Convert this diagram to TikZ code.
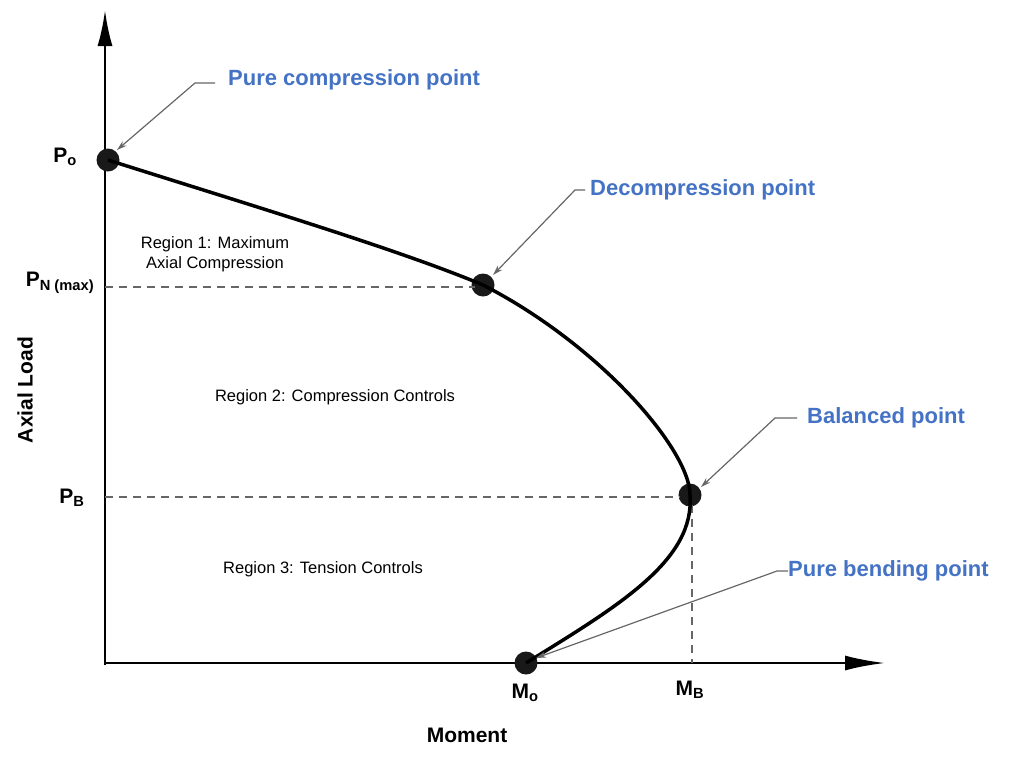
\documentclass[tikz,border=0pt]{standalone}
\usepackage{fontspec}
\setmainfont{Liberation Sans}
\usetikzlibrary{arrows.meta}
\definecolor{lblue}{RGB}{68,114,196}
\begin{document}
\begin{tikzpicture}[x=1pt,y=-1pt,
  dot/.style={circle,fill=black!90,inner sep=0pt,minimum size=23pt},
  callout/.style={font=\bfseries\fontsize{22}{26}\selectfont,text=lblue,anchor=west,inner sep=0pt},
  lead/.style={draw=black!60,line width=1.2pt,-{Stealth[length=10pt,width=6pt]}},
  reg/.style={font=\fontsize{16.5}{20}\selectfont,align=center},
  ax/.style={font=\bfseries\fontsize{21}{24}\selectfont},
  guide/.style={draw=black!60,line width=1.6pt,dash pattern=on 8pt off 6pt}]
\useasboundingbox (0,0) rectangle (1024,769);
\coordinate (O) at (105,663);
\coordinate (ytop) at (105,10);
\coordinate (xend) at (885,663);
\draw[line width=2.6pt,-{Latex[length=36pt,width=15pt]}] (105,665) -- (ytop);
\draw[line width=2.6pt,-{Latex[length=40pt,width=15pt]}] (O) -- (xend);
\node[dot] (po) at (108,160) {};
\node[dot] (dc) at (483,285) {};
\node[dot] (bp) at (690,495) {};
\node[dot] (mo) at (526,663) {};
\coordinate (pnL) at (105,287); \coordinate (pbL) at (105,497);
\coordinate (pnR) at (475,287); \coordinate (pbR) at (680,497);
\coordinate (mbT) at (692,505); \coordinate (mbB) at (692,663);
\draw[guide] (pnL) -- (pnR);
\draw[guide] (pbL) -- (pbR);
\draw[guide] (mbT) -- (mbB);
\draw[line width=3.5pt] (po.center) .. controls (250,205) and (400,250) .. (dc.center)
  .. controls (600,345) and (690,450) .. (bp.center)
  .. controls (695,560) and (620,605) .. (mo.center);
% callouts
\node[callout] (t1) at (228,80) {Pure compression point};
\node[callout] (t2) at (590,190) {Decompression point};
\node[callout] (t3) at (807,418) {Balanced point};
\node[callout] (t4) at (788,571) {Pure bending point};
\coordinate (b1) at (195,83); \coordinate (b2) at (575,190);
\coordinate (b3) at (775,418); \coordinate (b4) at (777,571);
\coordinate (e1) at (215,83); \coordinate (e2) at (585,190);
\coordinate (e3) at (797,418);
\draw[lead] (e1) -- (b1) -- (117,150);
\draw[lead] (e2) -- (b2) -- (493,275);
\draw[lead] (e3) -- (b3) -- (701,487);
\draw[lead] (t4.west) -- (b4) -- (536,658);
% labels
\node[ax] (lpo) at (65,157) {P\textsubscript{o}};
\node[ax] (lpn) at (60,283) {P\textsubscript{N (max)}};
\node[ax] (lpb) at (72,498) {P\textsubscript{B}};
\node[ax] (lmo) at (525,693) {M\textsubscript{o}};
\node[ax] (lmb) at (690,690) {M\textsubscript{B}};
\node[ax] (xl) at (467,735) {Moment};
\node[ax,rotate=90] (yl) at (25,390) {Axial Load};
\node[reg] (r1) at (215,254) {Region 1: Maximum\\Axial Compression};
\node[reg] (r2) at (335,397) {Region 2: Compression Controls};
\node[reg] (r3) at (323,569) {Region 3: Tension Controls};
\end{tikzpicture}
\end{document}
